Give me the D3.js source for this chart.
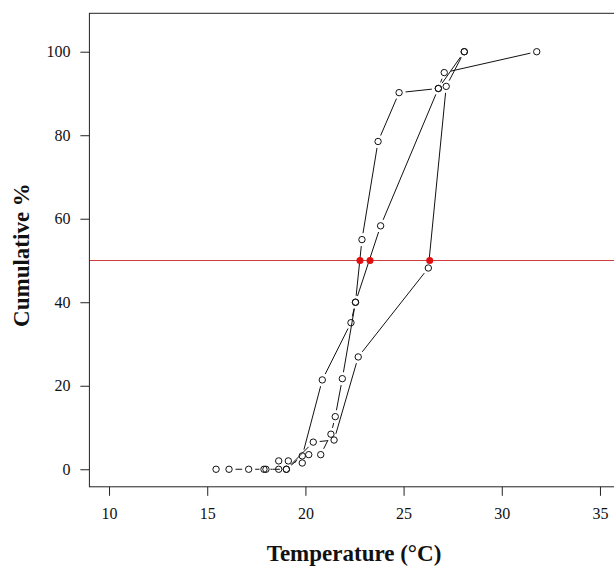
<!DOCTYPE html>
<html><head><meta charset="utf-8">
<script src="https://cdn.jsdelivr.net/npm/d3@7"></script>
<style>body{margin:0;background:#fff}svg{display:block}</style>
</head><body>
<script>
// Series: temperature (°C) and cumulative %
const s1Temp = [15.45, 16.11, 17.11, 17.99, 19.03, 19.84, 20.86, 22.32, 22.55, 22.88, 23.70, 24.77, 26.77, 28.09];
const s1Cum  = [0, 0, 0, 0, 0, 3.2, 21.4, 35.1, 40.0, 55.0, 78.5, 90.2, 91.2, 100];
const s2Temp = [17.89, 18.64, 19.13, 19.84, 20.17, 20.78, 21.30, 21.52, 21.88, 22.55, 23.83, 26.77, 27.07, 31.78];
const s2Cum  = [0, 0, 2.0, 1.5, 3.5, 3.5, 8.4, 12.6, 21.7, 40.0, 58.3, 91.2, 95.0, 100];
const s3Temp = [18.64, 19.03, 20.40, 21.46, 22.69, 26.26, 27.17, 28.09];
const s3Cum  = [2.0, 0, 6.5, 7.0, 26.9, 48.2, 91.7, 100];
const crossTemp = [22.78, 23.29, 26.33];
const crossLevel = 50;
const xTicks = [10, 15, 20, 25, 30, 35];
const yTicks = [0, 20, 40, 60, 80, 100];

const W = 614, H = 568;
const svg = d3.select("body").append("svg").attr("width", W).attr("height", H);
const x = d3.scaleLinear().domain([9, 36]).range([89.4, 619.6]);
const y = d3.scaleLinear().domain([-4.2, 109.2]).range([486.8, 13.3]);

const series = [[s1Temp, s1Cum], [s2Temp, s2Cum], [s3Temp, s3Cum]];
const gap = 6.5;
const g = svg.append("g");
series.forEach(([T, P]) => {
  const pts = T.map((t, i) => [x(t), y(P[i])]);
  for (let i = 0; i < pts.length - 1; i++) {
    const [x0, y0] = pts[i], [x1, y1] = pts[i + 1];
    const len = Math.hypot(x1 - x0, y1 - y0);
    if (len <= 2 * gap) continue;
    const ux = (x1 - x0) / len, uy = (y1 - y0) / len;
    g.append("line")
      .attr("x1", x0 + ux * gap).attr("y1", y0 + uy * gap)
      .attr("x2", x1 - ux * gap).attr("y2", y1 - uy * gap)
      .attr("stroke", "#111").attr("stroke-width", 1);
  }
  g.selectAll(null).data(pts).enter().append("circle")
    .attr("cx", d => d[0]).attr("cy", d => d[1]).attr("r", 3.2)
    .attr("fill", "none").attr("stroke", "#111").attr("stroke-width", 1);
});

// 50% line
svg.append("line").attr("x1", x.range()[0]).attr("x2", x.range()[1])
  .attr("y1", y(crossLevel)).attr("y2", y(crossLevel))
  .attr("stroke", "#d23c3c").attr("stroke-width", 1.2);
svg.selectAll(".cross").data(crossTemp).enter().append("circle")
  .attr("cx", d => x(d)).attr("cy", y(crossLevel)).attr("r", 3.5)
  .attr("fill", "#e01010");

// box
svg.append("rect").attr("x", x.range()[0]).attr("y", y.range()[1])
  .attr("width", x.range()[1] - x.range()[0]).attr("height", y.range()[0] - y.range()[1])
  .attr("fill", "none").attr("stroke", "#222").attr("stroke-width", 1);

// axes
const xAxis = d3.axisBottom(x).tickValues(xTicks).tickSize(9).tickPadding(12);
const xg = svg.append("g").attr("transform", `translate(0,${y.range()[0]})`).call(xAxis);
xg.select(".domain").remove();
const yAxis = d3.axisLeft(y).tickValues(yTicks).tickSize(9).tickPadding(10);
const yg = svg.append("g").attr("transform", `translate(${x.range()[0]},0)`).call(yAxis);
yg.select(".domain").remove();
svg.selectAll(".tick text").attr("font-family", "Liberation Serif, serif").attr("font-size", 16).attr("fill", "#111");
svg.selectAll(".tick line").attr("stroke", "#222");

svg.append("text").attr("x", 354).attr("y", 561).attr("text-anchor", "middle")
  .attr("font-family", "Liberation Serif, serif").attr("font-weight", "bold").attr("font-size", 23)
  .attr("fill", "#111").text("Temperature (°C)");
svg.append("text").attr("transform", "translate(29,255) rotate(-90)").attr("text-anchor", "middle")
  .attr("font-family", "Liberation Serif, serif").attr("font-weight", "bold").attr("font-size", 23)
  .attr("fill", "#111").text("Cumulative %");
</script>
</body></html>
